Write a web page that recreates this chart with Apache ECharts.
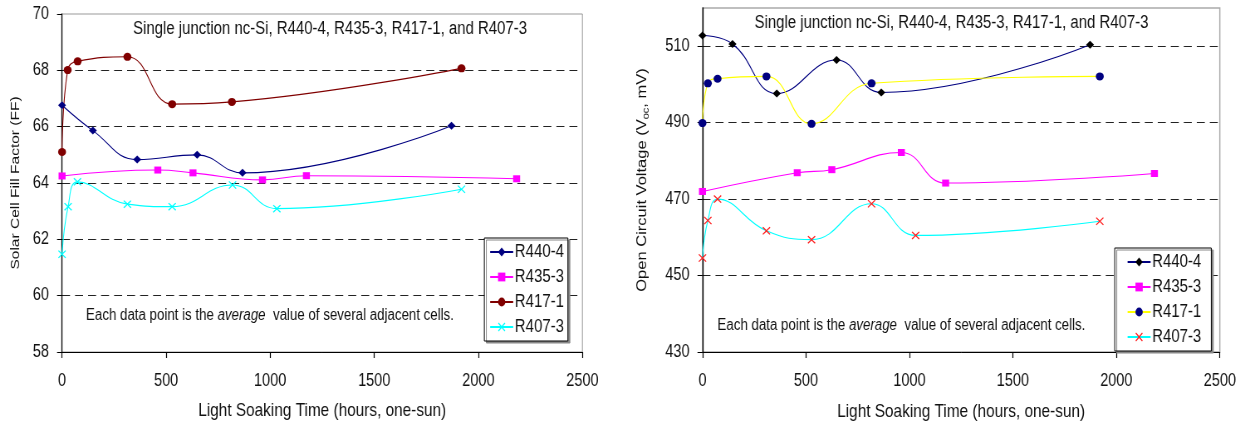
<!DOCTYPE html>
<html>
<head>
<meta charset="utf-8">
<script src="https://cdn.jsdelivr.net/npm/echarts@6/dist/echarts.min.js"></script>
<style>
  html, body { margin: 0; padding: 0; background: #fff; overflow: hidden; }
  #wrap { width: 1244px; height: 426px; overflow: hidden; position: relative; }
  #chart { height: 426px; transform-origin: 0 0; position: absolute; left: 0; top: 0; }
</style>
</head>
<body>
<div id="wrap"><div id="chart"></div></div>
<script>
// ---------- Data ----------
const seriesNames = ['R440-4', 'R435-3', 'R417-1', 'R407-3'];

// Left chart: Fill Factor vs light soaking time
const ffHoursR440 = [0, 148, 361, 649, 867, 1871];
const ffR440      = [66.76, 65.86, 64.83, 65.0, 64.36, 66.03];
const ffHoursR435 = [0, 460, 629, 963, 1174, 2184];
const ffR435      = [64.25, 64.46, 64.36, 64.11, 64.26, 64.15];
const ffHoursR417 = [0, 27, 75, 314, 529, 816, 1919];
const ffR417      = [65.1, 68.01, 68.32, 68.48, 66.8, 66.88, 68.07];
const ffHoursR407 = [0, 29, 74, 314, 529, 819, 1032, 1919];
const ffR407      = [61.47, 63.16, 64.04, 63.25, 63.16, 63.93, 63.09, 63.78];

// Right chart: Open circuit voltage vs light soaking time
const vocHoursR440 = [0, 145, 359, 648, 864, 1873];
const vocR440      = [512.8, 510.6, 497.6, 506.4, 497.9, 510.4];
const vocHoursR435 = [0, 458, 625, 961, 1175, 2184];
const vocR435      = [472.0, 476.9, 477.7, 482.2, 474.2, 476.7];
const vocHoursR417 = [0, 26, 73, 309, 527, 817, 1920];
const vocR417      = [489.9, 500.3, 501.5, 502.1, 489.7, 500.3, 502.1];
const vocHoursR407 = [0, 26, 73, 309, 527, 817, 1030, 1920];
const vocR407      = [454.6, 464.4, 470.0, 461.7, 459.4, 468.8, 460.5, 464.2];

// Axis ranges / ticks
const hoursMin = 0, hoursMax = 2500, hoursStep = 500;
const ffMin = 58, ffMax = 70, ffStep = 2;
const vocMin = 430, vocMax = 520, vocStep = 20;

// Texts
const chartTitle = 'Single junction nc-Si, R440-4, R435-3, R417-1, and R407-3';
const xName = 'Light Soaking Time (hours, one-sun)';
const ffName = 'Solar Cell Fill Factor (FF)';
const vocName = '{a|Open Circuit Voltage (V}{s|oc}{a|, mV)}';
const noteA = 'Each data point is the ';
const noteB = 'average';
const noteC = '  value of several adjacent cells.';

// ---------- Layout: the reference text is horizontally condensed, so the
// chart is laid out in a wider space and squeezed with a CSS scaleX ----------
const SX = 0.83;
const W = 1244, H = 426;
const X = px => px / SX;   // reference px -> unscaled layout px
const el = document.getElementById('chart');
el.style.width = (W / SX) + 'px';
el.style.transform = 'scaleX(' + SX + ')';

const FONT = "'Liberation Sans', Arial, Helvetica, sans-serif";
const TXT = '#111';
const zip = (xs, ys) => xs.map((x, i) => [x, ys[i]]);
const xMark = 'path://M0,1L1,0L5,4L9,0L10,1L6,5L10,9L9,10L5,6L1,10L0,9L4,5Z';

function xAxisCfg(gi, gap) {
  return {
    type: 'value', gridIndex: gi, min: hoursMin, max: hoursMax, interval: hoursStep,
    name: xName, nameLocation: 'middle', nameGap: gap,
    nameTextStyle: { fontFamily: FONT, fontSize: 18.5, color: TXT },
    axisLine: { show: true, onZero: false, lineStyle: { color: '#000', width: 1 } },
    axisTick: { show: true, inside: false, length: 6, lineStyle: { color: '#000', width: 1.2 } },
    axisLabel: { margin: 20, fontFamily: FONT, fontSize: 17.5, color: TXT, formatter: v => String(v) },
    splitLine: { show: false }
  };
}
function yAxisCfg(gi, min, max, step, name, gap, nameSize) {
  return {
    type: 'value', gridIndex: gi, min: min, max: max, interval: step,
    name: name, nameLocation: 'middle', nameGap: X(gap), nameRotate: 90,
    nameTextStyle: {
      fontFamily: FONT, fontSize: nameSize, color: TXT,
      rich: {
        a: { fontFamily: FONT, fontSize: nameSize, color: TXT, lineHeight: 20 },
        s: { fontFamily: FONT, fontSize: 11, color: TXT, verticalAlign: 'bottom', lineHeight: 20 }
      }
    },
    axisLine: { show: true, onZero: false, lineStyle: { color: '#000', width: 1.3 } },
    axisTick: { show: true, inside: false, length: X(5), lineStyle: { color: '#000' } },
    axisLabel: { margin: X(13), fontFamily: FONT, fontSize: 17.5, color: TXT,
                 showMaxLabel: max !== vocMax, formatter: v => String(v) },
    splitLine: {
      show: true, showMinLine: false, showMaxLine: false,
      lineStyle: { color: '#222', type: [X(8), X(5)], width: 1 }
    }
  };
}
function lineSeries(name, xi, yi, data, lineColor, symbol, symColor, symSize) {
  return {
    name: name, type: 'line', xAxisIndex: xi, yAxisIndex: yi, data: data,
    smooth: 0.45, symbol: symbol, symbolSize: [X(symSize), symSize], showSymbol: true,
    lineStyle: { color: lineColor, width: 1.1 },
    itemStyle: { color: symColor, borderWidth: 0 },
    emphasis: { disabled: true }, animation: false, z: 3
  };
}

const legendBase = {
  orient: 'vertical', itemWidth: X(23), itemHeight: 11, itemGap: 7,
  backgroundColor: '#fff', borderColor: '#000', borderWidth: 1,
  shadowColor: '#888', shadowOffsetX: X(2), shadowOffsetY: 2, shadowBlur: 0,
  textStyle: { fontFamily: FONT, fontSize: 18, color: TXT, padding: [0, 0, 0, -3] },
  selectedMode: false
};

const R = ' ';  // suffix distinguishing right-chart series names
const option = {
  backgroundColor: '#fff',
  animation: false,
  grid: [
    { left: X(62), top: 14, width: X(520), height: 338, show: true, borderColor: '#999', borderWidth: 1, backgroundColor: 'transparent' },
    { left: X(702), top: 8, width: X(517), height: 348, show: true, borderColor: '#aaa', borderWidth: 1.5, backgroundColor: 'transparent' }
  ],
  xAxis: [xAxisCfg(0, 49), xAxisCfg(1, 50)],
  yAxis: [
    yAxisCfg(0, ffMin, ffMax, ffStep, ffName, 40, 15.5),
    yAxisCfg(1, vocMin, vocMax, vocStep, vocName, 52, 16.5)
  ],
  legend: [
    Object.assign({}, legendBase, {
      left: X(484), top: 238, padding: [5, X(4), 5, X(5)],
      data: seriesNames
    }),
    Object.assign({}, legendBase, {
      left: X(1114), top: 248, padding: [5, X(10), 5, X(12)],
      data: seriesNames.map(n => n + R),
      formatter: n => n.trim()
    })
  ],
  series: [
    lineSeries(seriesNames[0], 0, 0, zip(ffHoursR440, ffR440), '#000080', 'diamond', '#000080', 8),
    lineSeries(seriesNames[1], 0, 0, zip(ffHoursR435, ffR435), '#FF00FF', 'rect', '#FF00FF', 7),
    lineSeries(seriesNames[2], 0, 0, zip(ffHoursR417, ffR417), '#800000', 'circle', '#800000', 8),
    lineSeries(seriesNames[3], 0, 0, zip(ffHoursR407, ffR407), '#00FFFF', xMark, '#00FFFF', 8),
    lineSeries(seriesNames[0] + R, 1, 1, zip(vocHoursR440, vocR440), '#000080', 'diamond', '#000000', 8),
    lineSeries(seriesNames[1] + R, 1, 1, zip(vocHoursR435, vocR435), '#FF00FF', 'rect', '#FF00FF', 7),
    lineSeries(seriesNames[2] + R, 1, 1, zip(vocHoursR417, vocR417), '#FFFF00', 'circle', '#000080', 8),
    lineSeries(seriesNames[3] + R, 1, 1, zip(vocHoursR407, vocR407), '#00FFFF', xMark, '#FF2020', 8)
  ],
  graphic: [
    { type: 'text', left: X(133), top: 20, z: 10,
      style: { text: chartTitle, fontFamily: FONT, fontSize: 18, fill: TXT } },
    { type: 'text', left: X(754), top: 14, z: 10,
      style: { text: chartTitle, fontFamily: FONT, fontSize: 18, fill: TXT } },
    { type: 'text', left: X(86), top: 308, z: 10,
      style: {
        text: '{n|' + noteA + '}{i|' + noteB + '}{n|' + noteC + '}',
        rich: {
          n: { fontFamily: FONT, fontSize: 16, fill: TXT },
          i: { fontFamily: FONT, fontSize: 16, fill: TXT, fontStyle: 'italic' }
        }
      } },
    { type: 'text', left: X(717), top: 318, z: 10,
      style: {
        text: '{n|' + noteA + '}{i|' + noteB + '}{n|' + noteC + '}',
        rich: {
          n: { fontFamily: FONT, fontSize: 16, fill: TXT },
          i: { fontFamily: FONT, fontSize: 16, fill: TXT, fontStyle: 'italic' }
        }
      } }
  ]
};

const chart = echarts.init(el, null, { renderer: 'canvas', width: W / SX, height: H });
chart.setOption(option);
</script>
</body>
</html>
